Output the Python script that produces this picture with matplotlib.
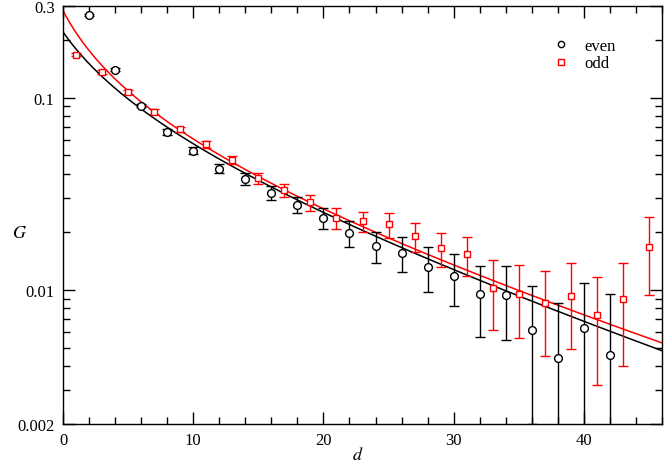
import numpy as np
import matplotlib
matplotlib.use("Agg")
import matplotlib.pyplot as plt
from matplotlib.ticker import FixedLocator, MultipleLocator, NullFormatter

# even distances
d_even = [2, 4, 6, 8, 10, 12, 14, 16, 18, 20, 22, 24, 26, 28, 30, 32, 34, 36, 38, 40, 42]
g_even = [0.270, 0.140, 0.0909, 0.0665, 0.053, 0.0427, 0.0378, 0.032, 0.0277, 0.0236, 0.0197,
          0.0168, 0.0156, 0.0132, 0.0118, 0.0095, 0.0094, 0.0062, 0.0044, 0.0063, 0.0046]
err_even = [0.004, 0.003, 0.0017, 0.0025, 0.0024, 0.0023, 0.0025, 0.0027, 0.0027, 0.0030, 0.0030,
            0.0031, 0.0033, 0.0035, 0.0036, 0.0038, 0.0039, 0.0042, 0.0041, 0.0045, 0.0049]

# odd distances
d_odd = [1, 3, 5, 7, 9, 11, 13, 15, 17, 19, 21, 23, 25, 27, 29, 31, 33, 35, 37, 39, 41, 43, 45]
g_odd = [0.1675, 0.136, 0.1066, 0.0845, 0.0684, 0.0572, 0.0475, 0.0382, 0.0329, 0.0285, 0.0236,
         0.0227, 0.0219, 0.0190, 0.0164, 0.0153, 0.0102, 0.0095, 0.0085, 0.0093, 0.0074, 0.0089, 0.0166]
err_odd = [0.003, 0.003, 0.0026, 0.0024, 0.0022, 0.0025, 0.0022, 0.0025, 0.0026, 0.0027, 0.0029,
           0.0027, 0.0033, 0.0032, 0.0033, 0.0035, 0.0040, 0.0039, 0.0040, 0.0044, 0.0042, 0.0049, 0.0072]

# fit curves: log10 G = a - k*d - q*ln(d + d0)
fit_even = (-0.2222, 0.01881, 0.3144, 4.0)
fit_odd = (-0.1737, 0.01697, 0.3398, 3.0)


def fit_curve(d, p):
    a, k, q, d0 = p
    return 10 ** (a - k * d - q * np.log(d + d0))


plt.rcParams['font.family'] = ['Liberation Serif', 'DejaVu Serif']
plt.rcParams['mathtext.fontset'] = 'stix'

fig = plt.figure(figsize=(6.64, 4.64), dpi=100)
ax = fig.add_axes([63 / 664, 1 - 425 / 464, 599 / 664, 418 / 464])

d_fit = np.linspace(0, 46, 400)
ax.plot(d_fit, fit_curve(d_fit, fit_even), color='black', lw=1.1, zorder=2)
ax.plot(d_fit, fit_curve(d_fit, fit_odd), color='red', lw=1.1, zorder=2)

ax.errorbar(d_even, g_even, yerr=err_even, fmt='o', ms=5.6, mfc='white', mec='black', mew=1.0,
            ecolor='black', elinewidth=1.0, capsize=3.8, capthick=1.0, zorder=3)
ax.errorbar(d_odd, g_odd, yerr=err_odd, fmt='s', ms=4.8, mfc='white', mec='red', mew=1.0,
            ecolor='red', elinewidth=1.0, capsize=3.8, capthick=1.0, zorder=3)

# legend handles (markers only)
h1, = ax.plot([], [], 'o', ms=4.5, mfc='none', mec='black', mew=1.0, label='even')
h2, = ax.plot([], [], 's', ms=4.2, mfc='none', mec='red', mew=1.0, label='odd')
ax.legend(handles=[h1, h2], loc='upper left', bbox_to_anchor=(0.804, 0.944), frameon=False,
          handlelength=1.0, handletextpad=0.9, labelspacing=0.1, borderpad=0, fontsize=12)

ax.set_yscale('log')
ax.set_xlim(0, 46)
ax.set_ylim(0.002, 0.3)

ax.xaxis.set_major_locator(MultipleLocator(10))
ax.xaxis.set_minor_locator(MultipleLocator(2))
ax.yaxis.set_major_locator(FixedLocator([0.002, 0.01, 0.1, 0.3]))
ax.yaxis.set_major_formatter(plt.FixedFormatter(['0.002', '0.01', '0.1', '0.3']))
minor_y = [m * 10.0 ** e for e in (-3, -2, -1) for m in range(1, 10)]
minor_y = [v for v in minor_y if 0.002 < v < 0.3 and v not in (0.01, 0.1)]
ax.yaxis.set_minor_locator(FixedLocator(minor_y))
ax.yaxis.set_minor_formatter(NullFormatter())

ax.tick_params(which='both', direction='in', top=True, right=True, labelsize=12)
ax.tick_params(which='major', length=8.5, width=1.0, pad=6)
ax.tick_params(which='minor', length=5, width=1.0)
for s in ax.spines.values():
    s.set_linewidth(1.0)

ax.set_xlabel('$d$', fontsize=13)
ax.set_ylabel('$G$', fontsize=13, rotation=0)
ax.xaxis.set_label_coords(0.4925, -0.074)
ax.yaxis.set_label_coords(-0.072, 0.459)
ax.xaxis.label.set_va('center')
ax.yaxis.label.set_va('center')
ax.yaxis.label.set_ha('center')

fig.savefig('out.png', dpi=100)
